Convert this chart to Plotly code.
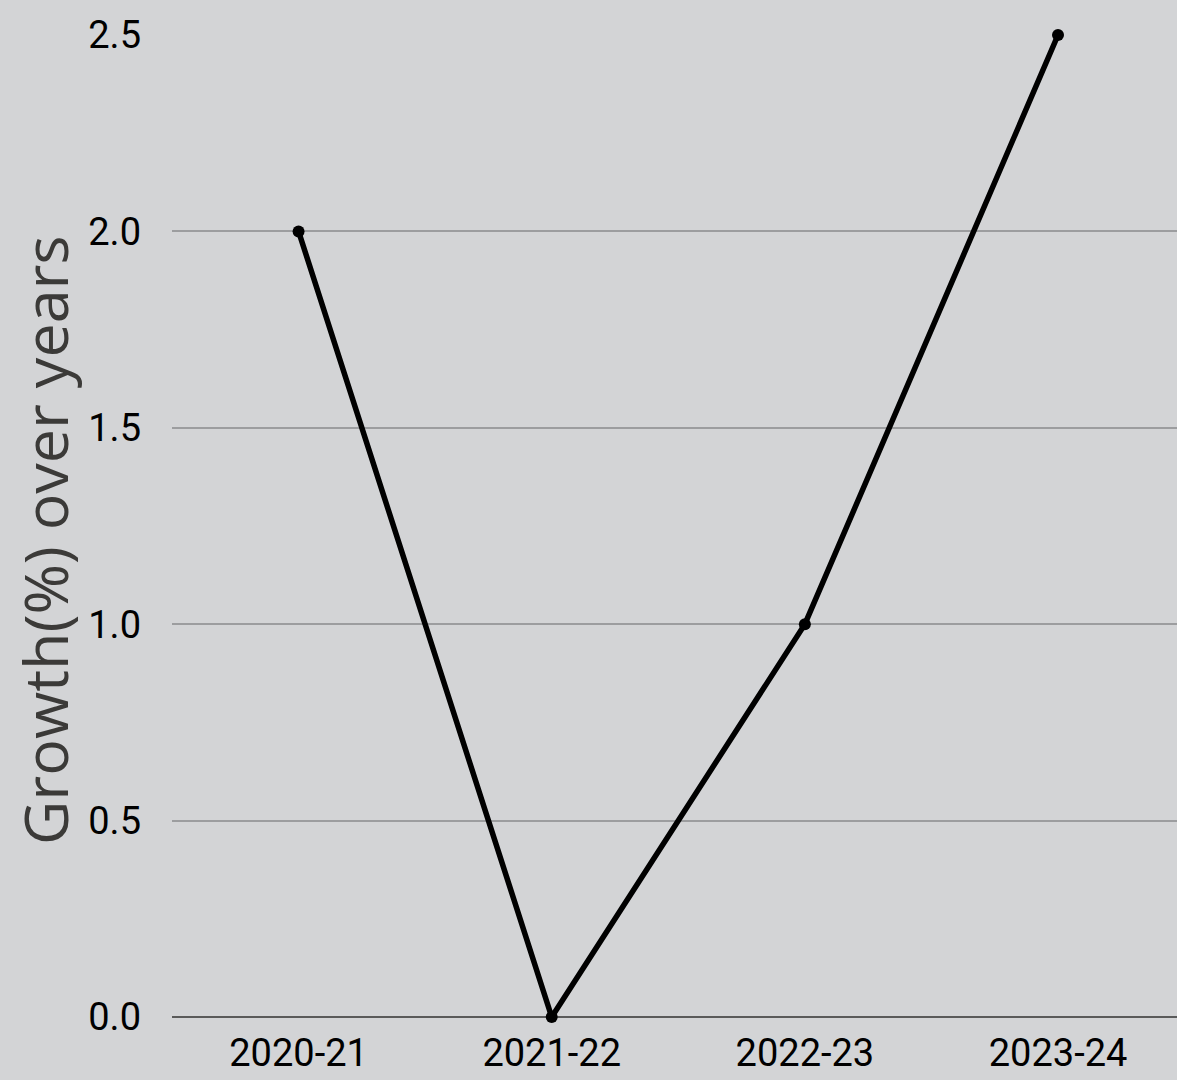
import plotly.graph_objects as go

# Yearly growth figures
years = ["2020-21", "2021-22", "2022-23", "2023-24"]
growth = [2.0, 0.0, 1.0, 2.5]
y_ticks = [0.0, 0.5, 1.0, 1.5, 2.0, 2.5]
y_title = "Growth(%) over years"

fig = go.Figure(
    go.Scatter(
        x=years,
        y=growth,
        mode="lines+markers",
        line=dict(color="black", width=5.5),
        marker=dict(color="black", size=12),
        cliponaxis=False,
        showlegend=False,
    )
)

bg = "#d3d4d6"
W, H = 1177, 1080
m_l, m_r, m_t, m_b = 172, 0, 35, 63
fig.update_layout(
    width=W,
    height=H,
    margin=dict(l=m_l, r=m_r, t=m_t, b=m_b),
    paper_bgcolor=bg,
    plot_bgcolor=bg,
    font=dict(family="Roboto", size=38, color="black"),
)

fig.update_xaxes(
    type="category",
    range=[-0.5, 3.47],
    showgrid=False,
    showline=False,
    zeroline=False,
    ticks="",
    ticklabelstandoff=10,
)

fig.update_yaxes(
    range=[0, 2.5],
    tickvals=y_ticks,
    ticktext=[f"{v:.1f}" for v in y_ticks],
    showgrid=True,
    gridcolor="#9c9d9f",
    gridwidth=1.5,
    zeroline=True,
    zerolinecolor="#5a5a5a",
    zerolinewidth=2,
    showline=False,
    ticks="",
    ticklabelstandoff=30,
)

# Vertical axis title, centred on the full figure height
plot_w = W - m_l - m_r
plot_h = H - m_t - m_b
fig.add_annotation(
    text=y_title,
    textangle=-90,
    xref="paper",
    yref="paper",
    x=(44 - m_l) / plot_w,
    y=(H - m_b - H / 2) / plot_h,
    xanchor="center",
    yanchor="middle",
    showarrow=False,
    font=dict(family="Open Sans", size=61, color="#3b3a38"),
)

fig.write_html("out.html")
